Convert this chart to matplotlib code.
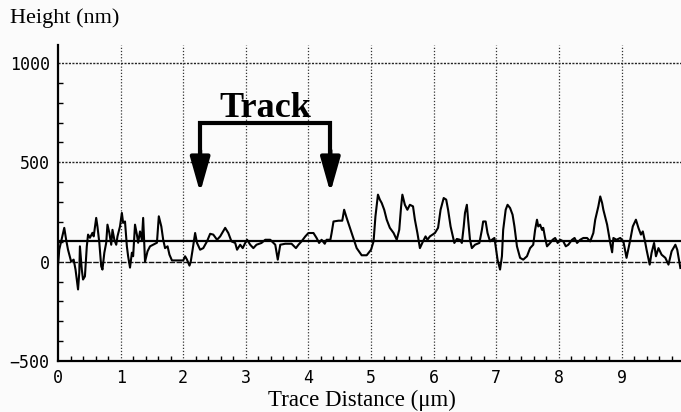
import numpy as np
import matplotlib
matplotlib.use("Agg")
import matplotlib.pyplot as plt
from matplotlib.ticker import MultipleLocator

# trace profile: distance (um), height (nm)
dist = [0.00, 0.02, 0.10, 0.13, 0.16, 0.21, 0.25, 0.28, 0.32, 0.34, 0.35, 0.38, 0.40, 0.43,
        0.46, 0.48, 0.51, 0.55, 0.57, 0.61, 0.63, 0.66, 0.69, 0.71, 0.74, 0.77, 0.79, 0.82,
        0.85, 0.87, 0.90, 0.93, 0.95, 0.99, 1.02, 1.04, 1.07, 1.10, 1.12, 1.15, 1.18, 1.20,
        1.23, 1.26, 1.28, 1.31, 1.34, 1.36, 1.39, 1.43, 1.47, 1.52, 1.58, 1.61, 1.65, 1.68,
        1.71, 1.75, 1.78, 1.82, 1.90, 2.00, 2.03, 2.06, 2.10, 2.12, 2.15, 2.19, 2.22, 2.27,
        2.32, 2.38, 2.43, 2.48, 2.54, 2.59, 2.67, 2.72, 2.77, 2.83, 2.86, 2.91, 2.95, 2.99,
        3.02, 3.07, 3.12, 3.17, 3.25, 3.31, 3.39, 3.47, 3.51, 3.55, 3.63, 3.73, 3.80, 3.84,
        3.89, 3.95, 4.00, 4.08, 4.13, 4.17, 4.21, 4.26, 4.29, 4.35, 4.37, 4.40, 4.48, 4.54,
        4.57, 4.61, 4.69, 4.77, 4.85, 4.93, 5.00, 5.04, 5.07, 5.11, 5.14, 5.17, 5.21, 5.25,
        5.30, 5.36, 5.41, 5.45, 5.48, 5.50, 5.54, 5.58, 5.62, 5.67, 5.70, 5.74, 5.78, 5.83,
        5.87, 5.90, 5.94, 6.02, 6.07, 6.11, 6.16, 6.20, 6.23, 6.27, 6.33, 6.37, 6.42, 6.45,
        6.48, 6.50, 6.53, 6.55, 6.58, 6.61, 6.66, 6.73, 6.77, 6.79, 6.83, 6.86, 6.90, 6.93,
        6.97, 6.99, 7.02, 7.06, 7.09, 7.11, 7.15, 7.18, 7.22, 7.26, 7.29, 7.33, 7.38, 7.43,
        7.49, 7.54, 7.59, 7.62, 7.65, 7.67, 7.70, 7.73, 7.75, 7.78, 7.81, 7.86, 7.90, 7.94,
        7.98, 8.02, 8.07, 8.11, 8.15, 8.21, 8.25, 8.29, 8.34, 8.39, 8.45, 8.50, 8.55, 8.58,
        8.63, 8.66, 8.69, 8.71, 8.77, 8.82, 8.85, 8.87, 8.92, 8.98, 9.03, 9.08, 9.14, 9.18,
        9.23, 9.27, 9.31, 9.34, 9.38, 9.40, 9.45, 9.48, 9.52, 9.55, 9.59, 9.64, 9.70, 9.75,
        9.80, 9.86, 9.89, 9.94]
height = [-20, 60, 170, 110, 60, 0, 10, -40, -140, -55, 77, -40, -90, -74,
          77, 136, 120, 145, 127, 220, 177, 95, -23, -40, 45, 95, 186, 145,
          85, 160, 110, 85, 127, 177, 245, 195, 202, 77, 27, -30, 45, 27,
          186, 136, 95, 152, 110, 220, 0, 52, 77, 85, 95, 228, 177, 110,
          68, 77, 35, 6, 6, 6, 27, 10, -20, 0, 60, 144, 94, 60,
          68, 102, 140, 136, 110, 127, 170, 144, 102, 94, 60, 85, 68, 94,
          110, 85, 68, 85, 94, 110, 110, 85, 10, 85, 90, 90, 68, 85,
          102, 127, 144, 144, 119, 94, 110, 90, 110, 110, 144, 202, 206, 206,
          261, 220, 144, 68, 32, 32, 60, 102, 228, 337, 312, 295, 261, 211,
          170, 144, 110, 160, 278, 337, 286, 261, 286, 278, 211, 144, 68, 102,
          127, 110, 127, 144, 170, 261, 320, 312, 261, 177, 94, 114, 110, 94,
          177, 245, 286, 211, 110, 68, 85, 94, 160, 202, 202, 144, 102, 110,
          119, 77, 10, -40, 27, 160, 261, 286, 270, 236, 177, 77, 19, 10,
          27, 68, 85, 160, 211, 177, 186, 160, 170, 119, 77, 94, 110, 119,
          94, 110, 102, 77, 85, 110, 119, 94, 110, 119, 119, 102, 144, 211,
          278, 328, 295, 261, 186, 94, 47, 119, 110, 119, 102, 19, 110, 177,
          211, 170, 136, 152, 94, 60, -15, 44, 94, 27, 68, 35, 19, -15,
          52, 85, 60, -32]

mean_level = 105
track_start, track_end = 2.27, 4.35
yticks = [-500, 0, 500, 1000]
xticks = [0, 1, 2, 3, 4, 5, 6, 7, 8, 9]

bg = '#fbfbfb'
fig = plt.figure(figsize=(6.81, 4.12), dpi=100, facecolor=bg)
ax = fig.add_axes([58/681, 1 - 361/412, 623/681, (361 - 45)/412])
ax.set_facecolor(bg)

ax.set_xlim(0, 9.95)
ax.set_ylim(-500, 1090)

# grid
for xv in xticks[1:]:
    ax.axvline(xv, color='#333333', lw=0.9, ls=(0, (1, 1.5)), zorder=1)
for yv in [500, 1000]:
    ax.axhline(yv, color='#222222', lw=1.0, ls=(0, (1.5, 1)), zorder=1)
ax.axhline(0, color='#111111', lw=1.0, ls=(0, (4, 1)), zorder=1)
ax.axhline(mean_level, color='black', lw=1.6, zorder=2)

ax.plot(dist, height, color='black', lw=1.5, zorder=3)

# track bracket
ax.plot([track_start, track_start, track_end, track_end], [480, 698, 698, 480],
        color='black', lw=3, solid_joinstyle='miter', zorder=4)
for xv in (track_start, track_end):
    ax.annotate('', xy=(xv, 347), xytext=(xv, 560),
                arrowprops=dict(arrowstyle='-|>,head_length=0.85,head_width=0.24',
                                lw=3, color='black', mutation_scale=25,
                                shrinkA=0, shrinkB=0), zorder=4)
ax.text(3.31, 728, 'Track', fontsize=26, fontweight='bold', family='Liberation Serif',
        ha='center', va='baseline', zorder=5)

for s in ['top', 'right']:
    ax.spines[s].set_visible(False)
for s in ['left', 'bottom']:
    ax.spines[s].set_linewidth(1.6)
    ax.spines[s].set_color('black')

ax.set_xticks(xticks)
ax.set_yticks(yticks)
ax.xaxis.set_minor_locator(MultipleLocator(0.2))
ax.yaxis.set_minor_locator(MultipleLocator(100))
ax.tick_params(which='major', length=0, pad=6, labelsize=12)
ax.tick_params(which='minor', direction='in', length=3.5, width=1, color='black')
for lab in ax.get_xticklabels() + ax.get_yticklabels():
    lab.set_family('DejaVu Sans Mono')

fig.text(10/681, 1 - 18/412, 'Height (nm)', fontsize=16, family='Liberation Serif',
         ha='left', va='center')
fig.text(362/681, 1 - 400/412, 'Trace Distance (\u03bcm)', fontsize=16.5,
         family='Liberation Serif', ha='center', va='center')

fig.savefig('out.png', dpi=100, facecolor=bg)
